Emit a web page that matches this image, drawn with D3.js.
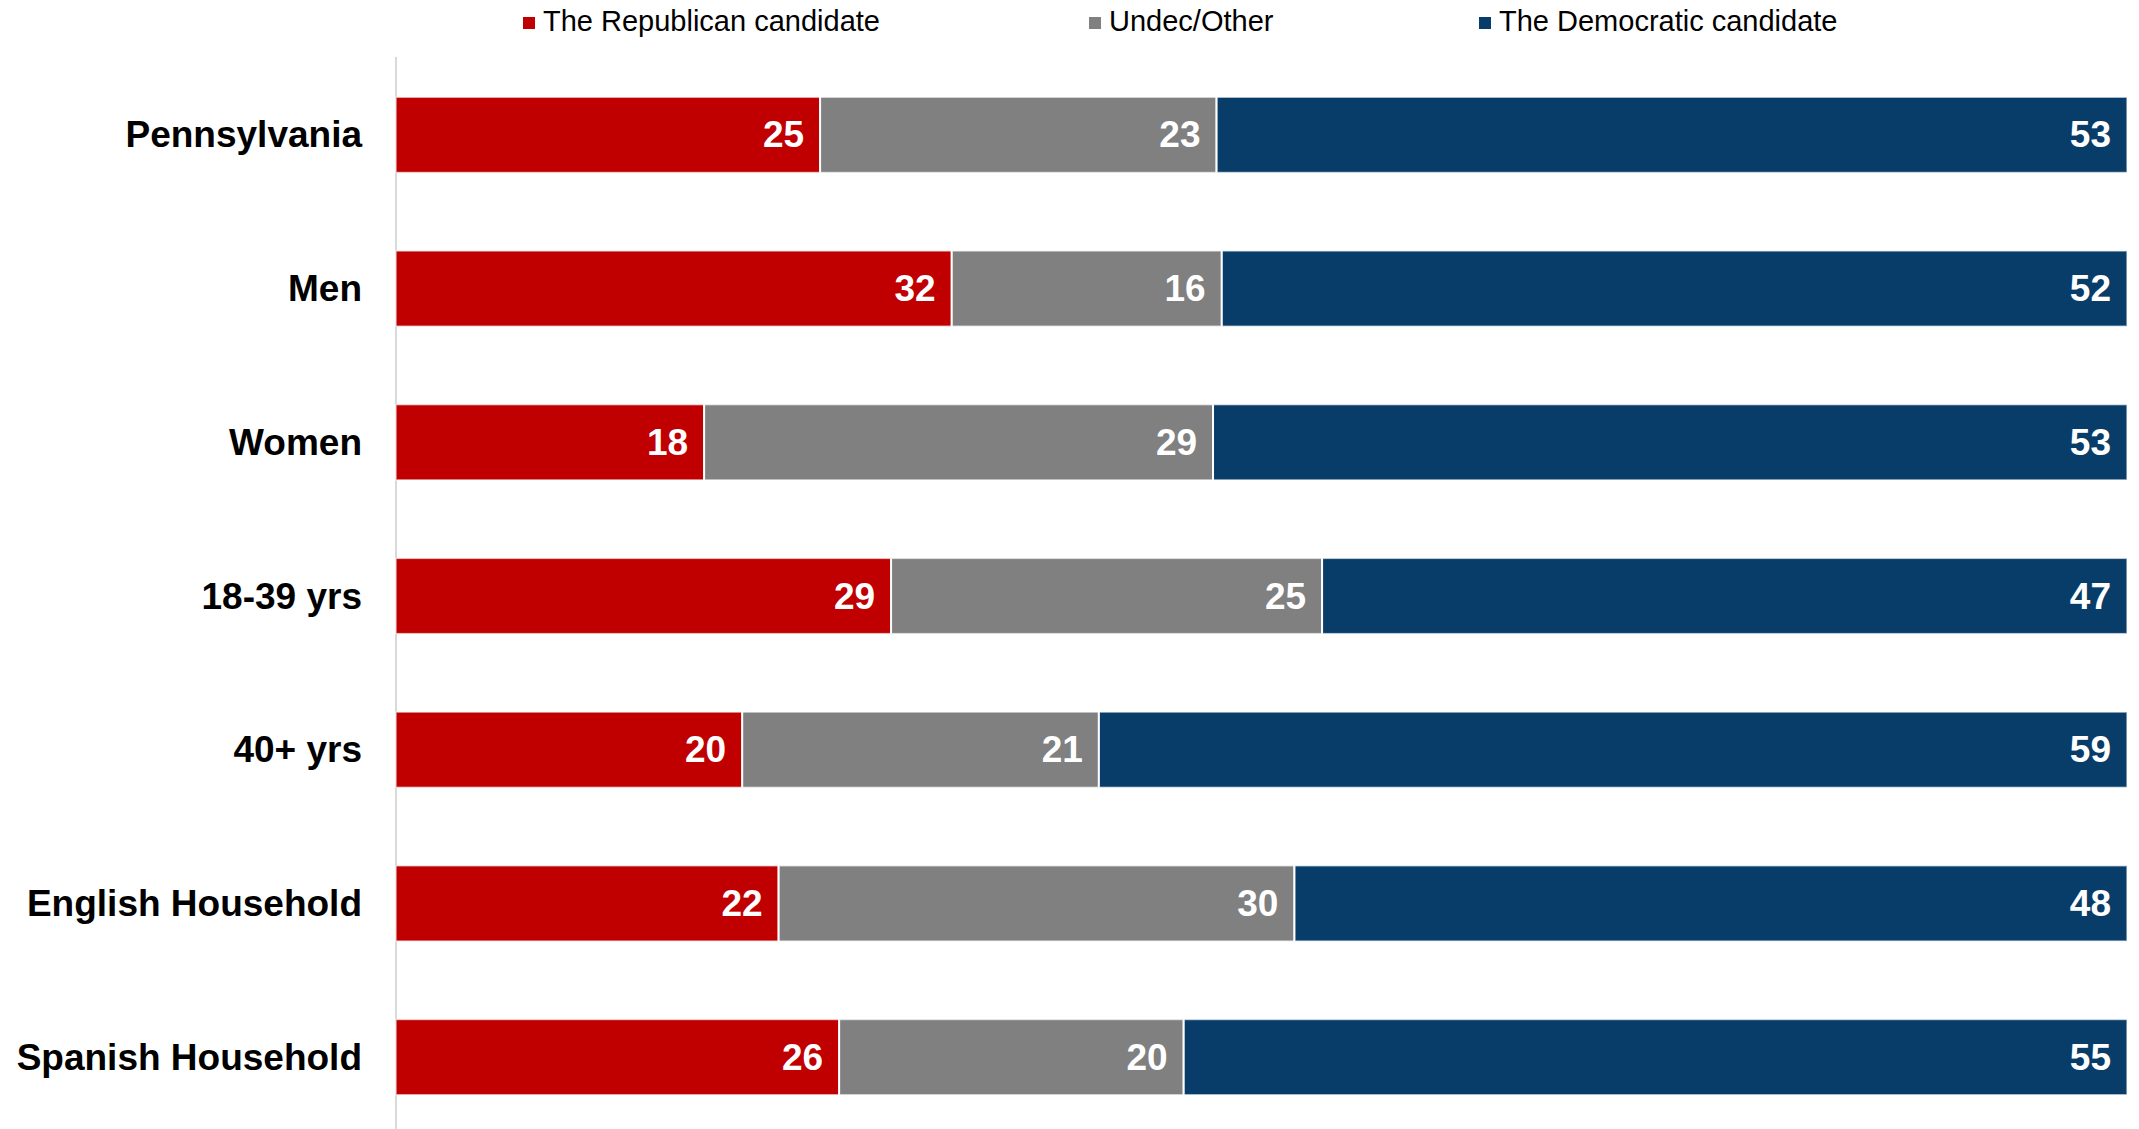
<!DOCTYPE html>
<html>
<head>
<meta charset="utf-8">
<script src="https://cdn.jsdelivr.net/npm/d3@7"></script>
<style>
  html, body { margin: 0; padding: 0; background: #fff; }
  svg { display: block; font-family: "Liberation Sans", Arial, sans-serif; }
</style>
</head>
<body>
<svg id="chart" width="2139" height="1129"></svg>
<script>
const categories = ["Pennsylvania", "Men", "Women", "18-39 yrs", "40+ yrs", "English Household", "Spanish Household"];
const seriesNames = ["The Republican candidate", "Undec/Other", "The Democratic candidate"];
// shares; labels show the rounded values
const republican = [24.5, 32.1, 17.8, 28.6, 20.0, 22.1, 25.6];
const undecided  = [22.9, 15.6, 29.4, 24.9, 20.6, 29.8, 19.9];
const democratic = [52.6, 52.3, 52.8, 46.5, 59.4, 48.1, 54.5];
const colors = ["#C00000", "#808080", "#083C69"];

(function () {
const seriesValues = [republican, undecided, democratic];
const svg = d3.select("#chart");
const pLeft = 396, pRight = 2127, pTop = 58, pBottom = 1134;

const x = d3.scaleLinear().domain([0, 1]).range([pLeft, pRight]);
const y = d3.scaleBand().domain(categories).range([pTop, pBottom]).paddingInner(0.51).paddingOuter(0.255);

const rows = categories.map((c, i) => {
  const vals = seriesValues.map(s => s[i]);
  const total = d3.sum(vals);
  let acc = 0;
  return vals.map((v, k) => {
    const seg = { cat: c, k, v, x0: acc / total, x1: (acc + v) / total };
    acc += v;
    return seg;
  });
}).flat();

svg.append("line")
  .attr("x1", pLeft).attr("x2", pLeft)
  .attr("y1", 57).attr("y2", 1129)
  .attr("stroke", "#d9d9d9").attr("stroke-width", 2);

svg.append("g").selectAll("rect").data(rows).join("rect")
  .attr("x", d => x(d.x0))
  .attr("y", d => y(d.cat))
  .attr("width", d => x(d.x1) - x(d.x0))
  .attr("height", y.bandwidth())
  .attr("fill", d => colors[d.k])
  .attr("stroke", "#ffffff")
  .attr("stroke-opacity", 0.6)
  .attr("stroke-width", 1.5);

svg.append("g").selectAll("line").data(rows.filter(d => d.k > 0)).join("line")
  .attr("x1", d => x(d.x0)).attr("x2", d => x(d.x0))
  .attr("y1", d => y(d.cat)).attr("y2", d => y(d.cat) + y.bandwidth())
  .attr("stroke", "#ffffff").attr("stroke-width", 2);

svg.append("g").selectAll("text").data(rows).join("text")
  .attr("x", d => x(d.x1) - 16)
  .attr("y", d => y(d.cat) + y.bandwidth() / 2)
  .attr("text-anchor", "end")
  .attr("dominant-baseline", "central")
  .attr("fill", "#ffffff")
  .attr("font-weight", "bold")
  .attr("font-size", 37)
  .text(d => Math.round(d.v));

const yAxis = d3.axisLeft(y).tickSize(0).tickPadding(34);
const ga = svg.append("g").attr("transform", `translate(${pLeft},0)`).call(yAxis);
ga.select(".domain").remove();
ga.selectAll("text")
  .attr("font-family", "'Liberation Sans', Arial, sans-serif")
  .attr("font-size", 37)
  .attr("font-weight", "bold")
  .attr("fill", "#000")
  .attr("dy", null)
  .attr("dominant-baseline", "central");

const legendX = [523, 1089, 1479];
const lg = svg.append("g").selectAll("g").data(seriesNames).join("g")
  .attr("transform", (d, i) => `translate(${legendX[i]},0)`);
lg.append("rect").attr("x", 0).attr("y", 17).attr("width", 12).attr("height", 12)
  .attr("fill", (d, i) => colors[i]);
lg.append("text").attr("x", 20).attr("y", 31)
  .attr("font-size", 29).attr("fill", "#000")
  .text(d => d);
})();
</script>
</body>
</html>
